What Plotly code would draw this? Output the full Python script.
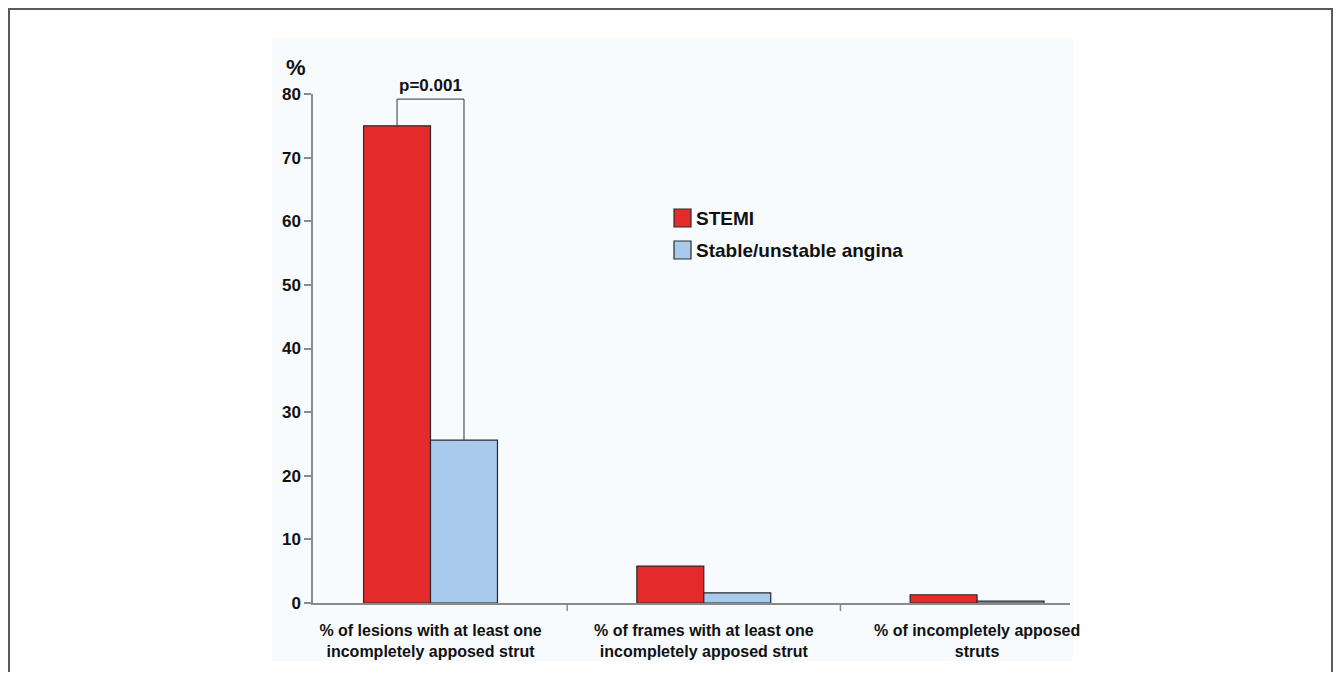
import plotly.graph_objects as go

categories = ["% of lesions with at least one<br>incompletely apposed strut",
              "% of frames with at least one<br>incompletely apposed strut",
              "% of incompletely apposed<br>struts"]
stemi = [75.0, 5.8, 1.3]
angina = [25.6, 1.6, 0.3]
series_names = ["STEMI", "Stable/unstable angina"]
y_ticks = [0, 10, 20, 30, 40, 50, 60, 70, 80]
p_label = "p=0.001"
bracket_top = 79.2

OFF = 8  # page body margin
W, H = 1341 - 2 * OFF, 680 - 2 * OFF
PL, PR, PT, PB = 313, 1070, 94, 603
L, T = PL - OFF, PT - OFF
R = W - (PR - OFF)
B = H - (PB - OFF)
pw, ph = PR - PL, PB - PT
def px(xp):
    return (xp - PL) / pw
def py(yp):
    return (PB - yp) / ph

FONT = "Liberation Sans, Arial, sans-serif"
BARGAP = 0.51
half = (1 - BARGAP) / 4
RED = "#e42a2b"
BLUE = "#a8caec"
EDGE = "#2a2a2a"

fig = go.Figure()
fig.add_trace(go.Bar(x=list(range(3)), y=stemi, name=series_names[0],
                     marker=dict(color=RED, line=dict(color=EDGE, width=1.2))))
fig.add_trace(go.Bar(x=list(range(3)), y=angina, name=series_names[1],
                     marker=dict(color=BLUE, line=dict(color=EDGE, width=1.2))))

shapes = []
shapes.append(dict(type="rect", xref="paper", yref="paper", x0=px(272), x1=px(1073),
                   y0=py(661), y1=py(38), fillcolor="#f7fbfe", line=dict(width=0), layer="below"))
shapes.append(dict(type="rect", xref="paper", yref="paper", x0=px(9), x1=px(1332),
                   y0=py(720), y1=py(9), fillcolor="rgba(0,0,0,0)",
                   line=dict(color="#5a5a5a", width=2), layer="below"))
x0 = 0 - half
x1 = 0 + half
shapes.append(dict(type="path", xref="x", yref="y",
                   path=f"M {x0} {stemi[0]} L {x0} {bracket_top} L {x1} {bracket_top} L {x1} {angina[0]}",
                   line=dict(color="#333333", width=1)))
for sx in [0.5, 1.5]:
    shapes.append(dict(type="line", xref="x", yref="paper", x0=sx, x1=sx, y0=0, y1=py(611),
                       line=dict(color="#8a8a8a", width=1.5)))

annotations = [
    dict(x=0, y=bracket_top, xref="x", yref="y", text=f"<b>{p_label}</b>", showarrow=False,
         yanchor="bottom", yshift=2, font=dict(size=17, family=FONT, color="#111111")),
    dict(x=px(284), y=py(53), xref="paper", yref="paper", text="<b>%</b>", showarrow=False,
         font=dict(size=22, family=FONT, color="#111111")),
]
leg_colors = [RED, BLUE]
leg_y = [218, 250]
for name, col, yc in zip(series_names, leg_colors, leg_y):
    shapes.append(dict(type="rect", xref="paper", yref="paper", x0=px(674), x1=px(691),
                       y0=py(yc + 9), y1=py(yc - 9), fillcolor=col,
                       line=dict(color=EDGE, width=1.2)))
    annotations.append(dict(x=px(694), y=py(yc), xref="paper", yref="paper",
                            text=f"<b>{name}</b>", showarrow=False, xanchor="left", yanchor="middle",
                            font=dict(size=19, family=FONT, color="#111111")))

fig.update_layout(
    width=W, height=H,
    margin=dict(l=L, r=R, t=T, b=B, autoexpand=False),
    paper_bgcolor="white", plot_bgcolor="rgba(0,0,0,0)",
    barmode="group", bargap=BARGAP, bargroupgap=0,
    font=dict(family=FONT, color="#111111"),
    showlegend=False,
    shapes=shapes,
    annotations=annotations,
)
fig.update_xaxes(type="linear", range=[-0.43, 2.34], tickvals=[0, 1, 2],
                 ticktext=[f"<b>{c}</b>" for c in categories],
                 showline=True, linecolor="#8a8a8a", linewidth=1.5,
                 ticks="", showgrid=False, zeroline=False, ticklabelstandoff=12,
                 tickfont=dict(size=16, family=FONT, color="#111111"))
fig.update_yaxes(range=[0, 80], tickvals=y_ticks, ticktext=[f"<b>{v}</b>" for v in y_ticks],
                 showline=True, linecolor="#8a8a8a", linewidth=1.5,
                 ticks="outside", ticklen=7, tickcolor="#8a8a8a", tickwidth=1.5,
                 showgrid=False, zeroline=False,
                 tickfont=dict(size=17, family=FONT, color="#111111"))

fig.write_html("out.html")
